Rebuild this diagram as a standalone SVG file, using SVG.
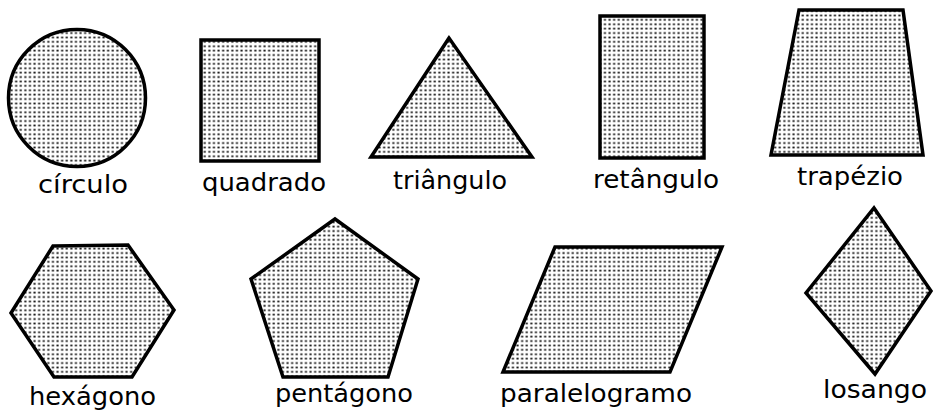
<svg xmlns="http://www.w3.org/2000/svg" width="934" height="410" viewBox="0 0 934 410">
<defs>
<pattern id="dots" patternUnits="userSpaceOnUse" width="4.6" height="4.4">
<rect x="1.3" y="1.4" width="2.1" height="1.7" fill="#111"/>
</pattern>
</defs>
<style>
.shape{fill:url(#dots);stroke:#000;stroke-width:3.5;stroke-linejoin:miter}
.lbl{font-family:"DejaVu Sans","Liberation Sans",sans-serif;font-size:24px;fill:#000}
</style>
<rect width="934" height="410" fill="#fff"/>
<g id="circulo">
<circle class="shape" cx="77" cy="98" r="68.5"/>
<text class="lbl" x="38" y="193" textLength="90" lengthAdjust="spacingAndGlyphs">círculo</text>
</g>
<g id="quadrado">
<rect class="shape" x="201" y="40" width="118" height="121"/>
<text class="lbl" x="202" y="191" textLength="124" lengthAdjust="spacingAndGlyphs">quadrado</text>
</g>
<g id="triangulo">
<polygon class="shape" points="449,38 371,157 532,157"/>
<text class="lbl" x="393" y="189" textLength="114" lengthAdjust="spacingAndGlyphs">triângulo</text>
</g>
<g id="retangulo">
<rect class="shape" x="600" y="16" width="104" height="142"/>
<text class="lbl" x="593" y="188" textLength="126" lengthAdjust="spacingAndGlyphs">retângulo</text>
</g>
<g id="trapezio">
<polygon class="shape" points="799,10 903,10 923,155 771,155"/>
<text class="lbl" x="797" y="185" textLength="106" lengthAdjust="spacingAndGlyphs">trapézio</text>
</g>
<g id="hexagono">
<polygon class="shape" points="53,246 128,245 174,310 132,377 54,377 11,313"/>
<text class="lbl" x="29" y="405" textLength="127" lengthAdjust="spacingAndGlyphs">hexágono</text>
</g>
<g id="pentagono">
<polygon class="shape" points="335,219 418,279 388,377 283,377 251,279"/>
<text class="lbl" x="275" y="402" textLength="138" lengthAdjust="spacingAndGlyphs">pentágono</text>
</g>
<g id="paralelogramo">
<polygon class="shape" points="555,247 722,247 670,372 503,372"/>
<text class="lbl" x="500" y="402" textLength="192" lengthAdjust="spacingAndGlyphs">paralelogramo</text>
</g>
<g id="losango">
<polygon class="shape" points="874,208 931,291 875,374 806,293"/>
<text class="lbl" x="823" y="398" textLength="104" lengthAdjust="spacingAndGlyphs">losango</text>
</g>
<g id="connectors"/>
</svg>
